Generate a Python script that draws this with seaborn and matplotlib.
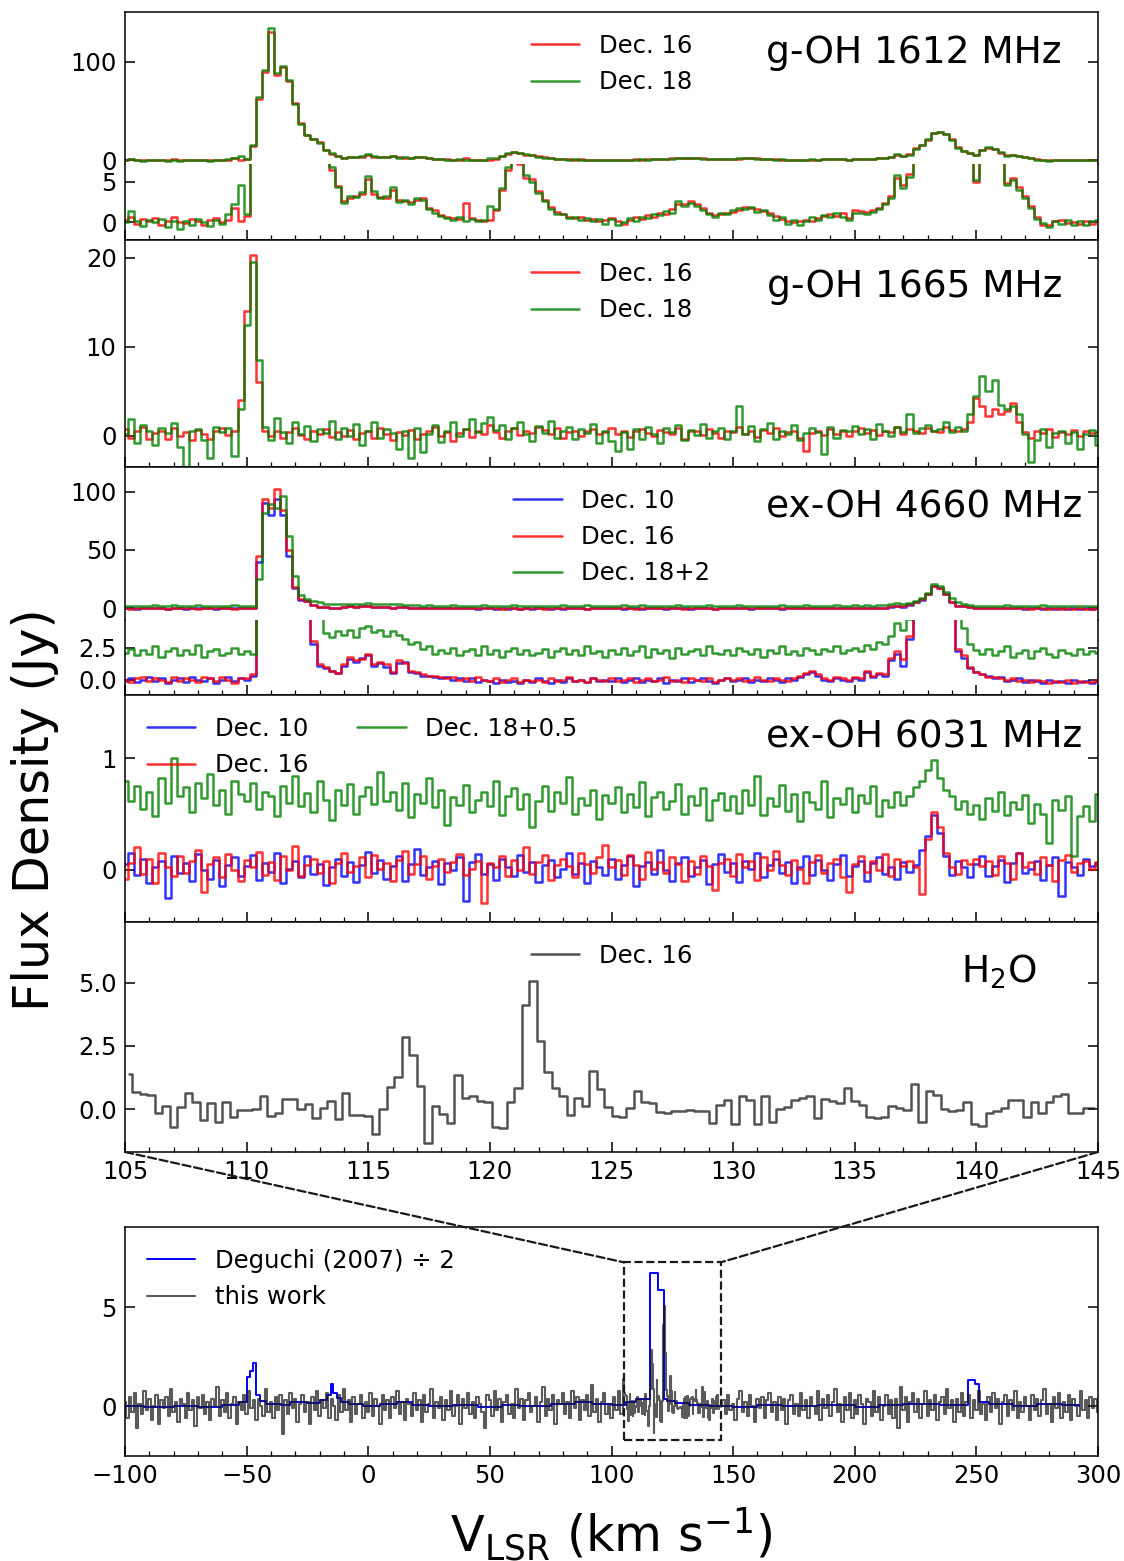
import numpy as np
import matplotlib
matplotlib.use("Agg")
import matplotlib.pyplot as plt
from matplotlib.patches import Rectangle, ConnectionPatch
from matplotlib.ticker import MultipleLocator
import seaborn as sns

# ---- spectra (flux in Jy), OH grid 105..145 km/s, 0.25 km/s ----
oh1612_dec16 = [
    0.3, 0.6, -0.2, 0.4, 0.1, 0.5, -0.3, 0.2, 0.6, 0.0,
    -0.1, 0.4, 0.2, -0.4, 0.3, 0.5, 0.0, 0.3, 1.8, 0.2,
    0.8, 14, 62, 90, 130, 86, 95, 80, 58, 38,
    25, 21, 18, 10, 6.5, 4.5, 2.6, 3.0, 3.3, 3.5,
    5.4, 3.5, 3.1, 3.0, 4.0, 2.7, 2.6, 2.5, 2.8, 3.0,
    1.8, 1.5, 0.9, 0.7, 0.5, 0.4, 2.4, 0.5, 0.3, 0.2,
    0.3, 1.5, 4.0, 6.5, 8.0, 7.2, 5.5, 5.3, 3.8, 2.8,
    1.9, 1.3, 1.0, 0.7, 0.5, 0.6, 0.3, 0.4, 0.2, 0.3,
    0.5, 0.1, -0.2, 0.3, 0.6, 0.4, 0.9, 0.7, 1.2, 1.0,
    1.6, 2.3, 2.2, 2.6, 2.3, 1.8, 1.2, 0.9, 1.0, 1.2,
    1.3, 1.5, 1.9, 1.7, 1.6, 1.4, 1.2, 0.8, 0.4, 0.2,
    0.0, 0.1, 0.3, 0.2, 0.5, 0.8, 1.0, 0.8, 1.2, 0.5,
    1.5, 1.4, 1.3, 1.5, 1.8, 2.4, 3.2, 5.5, 4.6, 6.0,
    12, 15, 20, 28, 29, 27, 21, 13, 9.0, 7.5,
    5.0, 10, 12.5, 11, 7.5, 4.8, 5.5, 4.3, 3.2, 2.0,
    0.6, -0.3, -0.4, 0.1, 0.3, -0.1, 0.0, -0.2, 0.2, -0.2,
    0.2]
oh1612_dec18 = [
    0.0, 1.4, 0.2, -0.5, 0.3, 0.0, 0.4, -0.6, 0.1, -0.9,
    0.2, -0.3, 0.4, 0.0, -0.5, 0.3, -0.2, 1.0, 2.2, 4.6,
    1.0, 15, 64, 92, 134, 88, 96, 81, 57, 37,
    25, 21, 17.5, 10, 6.8, 4.3, 2.4, 3.2, 3.1, 3.7,
    5.7, 3.8, 3.0, 3.2, 4.3, 2.5, 2.8, 2.3, 3.0, 2.8,
    1.6, 1.2, 0.8, 0.5, 0.3, 0.6, 0.2, 0.4, 0.1, 0.3,
    2.0, 1.6, 4.2, 6.8, 8.2, 7.4, 5.8, 5.0, 3.6, 2.6,
    1.6, 1.0, 1.0, 0.5, 0.6, 0.3, 0.5, 0.1, 0.4, -0.2,
    0.4, -0.4, 0.0, 0.5, 0.2, 0.7, 0.5, 1.0, 0.9, 1.4,
    1.2, 2.6, 2.0, 2.4, 2.0, 1.5, 1.0, 0.6, 1.2, 1.0,
    1.5, 1.7, 1.6, 1.9, 1.3, 1.5, 0.9, 0.3, 0.6, -0.2,
    0.3, -0.3, 0.2, 0.6, 0.3, 0.9, 0.7, 1.1, 0.6, 0.3,
    1.2, 1.1, 1.0, 1.3, 1.6, 2.2, 3.0, 5.8, 4.2, 5.6,
    11.5, 15.5, 21, 28, 29, 26, 20, 12.5, 9.5, 7.6,
    5.2, 10.5, 12.8, 11.5, 7.8, 4.6, 5.2, 4.0, 3.0, 1.8,
    0.4, -0.1, -0.6, 0.2, -0.2, 0.3, -0.4, 0.1, -0.3, 0.2,
    0.3]

oh1665_dec16 = [
    0.8, -0.2, 0.5, 1.0, -0.4, 0.3, 0.6, -0.3, 0.9, 0.0,
    0.4, -0.5, 0.7, 0.2, -0.3, 0.5, 0.9, 0.1, 0.5, 4.0,
    14, 20.3, 6.0, 0.6, 0.0, 0.6, -0.2, 0.4, 0.9, 0.1,
    -0.3, 0.5, 0.2, 0.8, -0.1, 0.4, 0.0, 0.7, -0.4, 0.3,
    0.6, -0.2, 0.9, 0.2, -0.5, 0.4, 0.1, 0.7, -0.3, 0.2,
    0.5, 1.0, 0.0, 0.4, -0.6, 0.3, 0.8, -0.1, 0.5, 0.2,
    1.2, 0.4, -0.2, 0.6, 0.9, 0.1, 0.5, 0.3, 1.0, 0.7,
    0.2, 0.9, -0.2, 0.4, 0.6, 0.0, 0.5, 0.8, 0.2, 0.4,
    0.9, 0.2, 0.6, -0.1, 0.5, 0.8, 0.3, 0.0, 0.7, 0.4,
    0.2, 0.9, -0.3, 0.5, 0.6, 0.1, 0.8, 0.3, -0.2, 0.6,
    0.4, 1.0, 0.2, 0.5, -0.1, 0.7, 0.3, 0.9, 0.0, 0.4,
    0.6, -0.2, -1.7, 0.3, 0.5, 0.1, 0.8, 0.2, 0.6, 0.0,
    0.5, 0.9, 0.3, 0.7, 0.1, 0.6, 0.4, 1.0, 0.2, 0.8,
    0.5, 0.3, 0.9, 0.6, 0.4, 1.0, 0.7, 0.5, 0.8, 1.5,
    4.3, 3.4, 2.2, 3.0, 2.4, 2.8, 3.7, 1.5, 0.4, -0.2,
    0.6, 0.3, 0.8, -0.1, 0.4, 0.2, 0.7, 0.0, 0.5, 0.3,
    0.4]
oh1665_dec18 = [
    0.2, 1.9, -0.8, 1.2, 0.5, -1.0, 0.9, 0.3, 1.4, -1.2,
    -3.6, 0.6, 0.8, -0.5, -2.5, 1.0, 0.4, 0.9, -2.3, 3.0,
    12.5, 19.5, 8.5, 1.0, -0.5, 2.0, 0.4, -0.8, 1.5, 0.2,
    1.1, -0.6, 0.8, 0.3, 1.7, -0.4, 0.9, 0.0, 1.3, -1.0,
    0.6, 1.5, -0.2, 0.8, 0.3, -1.5, 0.5, -2.5, 0.9, -1.8,
    0.2, 1.2, -0.7, 0.5, 1.6, 0.0, 0.8, 1.9, 0.4, 1.4,
    2.1, 0.7, 1.2, -0.3, 0.9, 1.5, 0.2, -0.6, 1.1, 0.3,
    1.7, -0.2, 0.6, 1.0, -0.4, 0.8, 0.3, 1.3, -0.8, 0.5,
    -0.6, -1.7, 0.4, -1.5, 0.8, -0.3, 1.0, 0.2, -0.8, 0.9,
    0.4, 1.2, -0.5, 0.7, 0.1, 1.3, -0.2, 0.6, 0.9, -0.4,
    0.5, 3.3, 0.2, 1.1, -0.6, 0.8, 1.4, -0.3, 0.6, 0.2,
    1.2, -0.5, 0.3, 0.9, 0.4, -2.0, 1.0, -0.2, 0.7, 0.5,
    1.1, 0.2, 0.8, -0.4, 1.3, 0.6, 0.0, 1.0, 0.4, 2.4,
    0.3, 0.9, 1.2, 0.5, 0.8, 1.5, 0.4, 1.0, 0.6, 2.5,
    4.5, 6.7, 5.0, 6.3, 3.5, 3.0, 3.3, 2.5, 0.2, -2.9,
    -0.5, 0.8, -1.2, 0.3, 0.6, -0.8, 0.4, -1.5, 0.2, 0.7,
    -1.0]

oh4660_dec10 = [
    -0.1, 0.1, -0.2, 0.0, 0.2, -0.1, 0.1, -0.3, 0.0, 0.1,
    -0.2, 0.2, 0.0, -0.1, 0.1, -0.3, 0.0, 0.2, -0.1, 0.1,
    0.0, 0.3, 40, 90, 80, 94, 80, 45, 17, 7.5,
    6.0, 2.8, 1.1, 0.9, 0.7, 0.5, 1.1, 1.6, 1.4, 1.7,
    1.9, 1.1, 1.3, 1.0, 0.5, 1.3, 1.4, 0.6, 0.5, 0.3,
    0.3, 0.2, 0.1, 0.2, 0.0, 0.1, -0.1, 0.1, -0.2, 0.0,
    -0.1, -0.3, 0.0, -0.2, -0.1, -0.3, 0.0, -0.2, 0.1, -0.1,
    -0.3, 0.0, -0.2, 0.1, -0.1, 0.0, -0.2, 0.1, -0.1, 0.0,
    -0.1, 0.1, -0.2, 0.0, 0.1, -0.2, 0.0, -0.1, 0.1, -0.3,
    0.0, -0.1, 0.1, -0.2, 0.0, 0.1, -0.1, -0.3, 0.0, 0.1,
    -0.1, 0.0, 0.1, -0.2, 0.0, -0.1, 0.1, 0.0, -0.2, 0.1,
    0.0, 0.2, 0.4, 0.6, 0.3, 0.0, -0.1, 0.1, 0.0, -0.1,
    0.1, 0.0, 0.6, 0.2, 0.4, 0.3, 1.5, 2.0, 1.1, 3.2,
    5.5, 7.5, 12, 19, 17, 12, 5.3, 2.2, 1.7, 0.9,
    0.6, 0.4, 0.3, 0.1, 0.2, -0.1, 0.0, 0.1, -0.2, 0.0,
    -0.1, -0.3, 0.0, -0.2, -0.1, -0.3, 0.0, -0.2, -0.1, -0.3,
    -0.1]
oh4660_dec16 = [
    0.0, -0.2, 0.1, 0.2, -0.1, 0.1, 0.0, -0.2, 0.2, -0.1,
    0.1, 0.0, -0.2, 0.2, 0.1, -0.1, 0.2, 0.0, -0.3, 0.1,
    0.1, 0.4, 45, 94, 86, 102, 84, 50, 18, 8.0,
    6.4, 3.0, 1.2, 1.0, 0.7, 0.55, 1.2, 1.75, 1.5, 1.6,
    2.0, 1.2, 1.4, 1.2, 0.6, 1.5, 1.3, 0.7, 0.6, 0.4,
    0.3, 0.3, 0.2, 0.1, 0.2, 0.0, 0.1, -0.1, 0.2, 0.0,
    -0.1, 0.1, -0.2, 0.0, 0.1, -0.2, 0.0, -0.1, 0.0, -0.2,
    0.1, -0.1, 0.0, 0.2, -0.1, 0.0, -0.2, 0.1, 0.0, -0.1,
    0.1, -0.1, 0.0, 0.1, -0.2, 0.0, 0.1, -0.1, 0.0, 0.2,
    -0.1, 0.0, -0.2, 0.1, 0.0, -0.1, 0.1, -0.2, 0.0, 0.1,
    0.0, 0.1, -0.1, 0.0, 0.2, 0.0, -0.1, 0.1, 0.0, -0.1,
    0.1, 0.3, 0.5, 0.7, 0.4, 0.1, 0.0, 0.2, 0.1, 0.0,
    0.2, 0.1, 0.7, 0.3, 0.5, 0.4, 1.7, 2.2, 1.6, 3.4,
    5.8, 8.0, 12.5, 19.5, 17.5, 12.5, 5.6, 2.4, 1.9, 1.0,
    0.6, 0.4, 0.2, 0.2, 0.1, 0.0, 0.1, -0.1, 0.0, -0.2,
    0.0, -0.1, -0.3, -0.1, -0.2, 0.0, -0.3, -0.1, -0.2, -0.2,
    0.0]
oh4660_dec18p2 = [
    2.1, 2.4, 1.9, 2.3, 2.0, 2.6, 1.8, 2.2, 2.5, 1.9,
    2.3, 2.0, 2.7, 1.8, 2.2, 2.4, 1.9, 2.1, 2.5, 2.0,
    2.2, 2.0, 25, 82, 89, 86, 96, 62, 28, 11,
    8.0, 6.5, 5.2, 3.6, 3.3, 3.8, 3.5, 3.9, 3.3, 4.0,
    4.2, 3.7, 3.9, 3.4, 3.8, 3.5, 3.2, 2.8, 2.9, 2.4,
    2.6, 2.0, 2.3, 2.1, 2.5, 1.9, 2.2, 2.4, 1.9, 2.6,
    2.0, 2.3, 1.8, 2.2, 2.5, 2.0, 2.3, 1.9, 2.1, 2.4,
    1.8, 2.2, 2.5, 2.0, 2.3, 1.9, 2.6, 2.1, 2.2, 1.8,
    2.3, 2.0, 2.5, 1.9, 2.2, 2.6, 1.8, 2.4, 2.1, 2.3,
    1.7, 2.5, 2.0, 2.2, 2.4, 1.9, 2.6, 2.1, 2.0, 2.3,
    1.9, 2.5, 2.2, 2.0, 2.4, 1.8, 2.3, 2.1, 2.6, 2.0,
    2.2, 1.9, 2.5, 2.3, 2.0, 2.4, 2.2, 2.6, 2.1, 2.3,
    2.5, 2.2, 2.7, 2.4, 2.9, 2.8, 3.4, 4.4, 3.9, 4.7,
    6.5, 9.0, 13, 21, 19, 14, 9.0, 5.8, 4.0, 2.8,
    2.3, 2.0, 2.4, 1.9, 2.2, 2.6, 1.8, 2.1, 2.3, 1.7,
    2.2, 2.5, 2.0, 1.8, 2.3, 2.1, 1.9, 2.4, 2.0, 2.2,
    2.1]

oh6031_dec10 = [
    0.05, 0.15, -0.05, 0.10, -0.12, 0.02, 0.08, -0.25, 0.12, -0.03,
    0.06, -0.10, 0.14, 0.00, -0.08, 0.09, -0.15, 0.04, 0.11, -0.06,
    0.03, 0.13, -0.09, 0.06, -0.02, 0.15, -0.12, 0.01, 0.08, -0.07,
    0.12, -0.04, 0.05, -0.14, 0.02, 0.10, -0.06, 0.07, -0.11, 0.04,
    0.16, -0.03, 0.09, -0.08, 0.03, 0.12, -0.10, 0.05, 0.19, -0.05,
    0.02, 0.08, -0.13, 0.06, 0.00, 0.11, -0.28, 0.07, 0.14, -0.04,
    0.05, -0.09, 0.10, 0.02, -0.06, 0.13, -0.02, 0.07, -0.11, 0.04,
    0.09, -0.07, 0.01, 0.15, -0.04, 0.06, -0.12, 0.08, 0.02, -0.05,
    0.10, -0.08, 0.04, 0.12, -0.15, 0.03, 0.07, -0.04, 0.18, 0.00,
    -0.10, 0.06, 0.11, -0.06, 0.02, 0.09, -0.13, 0.05, 0.14, -0.02,
    0.06, -0.11, 0.08, 0.01, 0.15, -0.07, 0.04, 0.10, -0.03, 0.07,
    -0.12, 0.02, 0.12, -0.05, 0.09, 0.00, -0.09, 0.05, 0.13, -0.06,
    0.03, 0.08, -0.10, 0.06, 0.11, -0.04, 0.02, -0.08, 0.07, -0.02,
    0.04, 0.18, 0.30, 0.49, 0.33, 0.12, -0.05, 0.08, 0.02, -0.07,
    0.05, 0.12, -0.06, 0.03, 0.09, -0.11, 0.06, 0.15, -0.03, 0.01,
    0.08, -0.09, 0.04, 0.11, -0.24, 0.07, 0.02, -0.05, 0.10, 0.03,
    0.06]
oh6031_dec16 = [
    -0.08, 0.06, 0.20, -0.04, 0.10, -0.12, 0.15, 0.02, -0.06, 0.12,
    -0.03, 0.08, 0.18, -0.20, 0.05, 0.11, -0.07, 0.14, 0.00, -0.10,
    0.09, 0.02, 0.16, -0.05, 0.07, -0.09, 0.12, 0.00, 0.21, -0.06,
    0.04, 0.10, -0.03, 0.08, -0.12, 0.06, 0.15, -0.02, 0.03, 0.11,
    -0.07, 0.13, 0.01, 0.06, -0.10, 0.09, 0.17, -0.04, 0.05, 0.12,
    -0.08, 0.03, 0.10, -0.02, 0.07, 0.14, -0.05, 0.01, 0.08, -0.30,
    0.06, 0.02, 0.12, -0.06, 0.09, 0.00, 0.20, -0.04, 0.07, 0.13,
    -0.09, 0.04, 0.10, 0.03, -0.07, 0.15, 0.05, -0.03, 0.11, 0.22,
    0.02, 0.09, -0.05, 0.13, 0.04, -0.08, 0.16, 0.01, 0.07, -0.03,
    0.11, 0.05, -0.10, 0.08, -0.04, 0.12, 0.03, -0.18, 0.06, 0.10,
    -0.06, 0.14, 0.02, 0.08, -0.09, 0.11, 0.00, 0.17, 0.04, -0.05,
    0.09, 0.01, -0.12, 0.07, 0.13, -0.03, 0.06, 0.10, -0.07, -0.20,
    0.05, 0.12, -0.02, 0.08, 0.00, 0.14, -0.06, 0.10, 0.03, 0.08,
    0.02, -0.22, 0.28, 0.52, 0.38, 0.15, 0.02, -0.04, 0.09, 0.05,
    0.10, 0.03, 0.08, -0.05, 0.12, 0.06, -0.08, 0.15, 0.02, 0.07,
    -0.04, 0.11, 0.04, -0.10, 0.09, 0.13, -0.02, 0.06, 0.08, 0.01,
    0.07]
oh6031_dec18p05 = [
    0.80, 0.62, 0.75, 0.55, 0.70, 0.48, 0.82, 0.60, 1.00, 0.66,
    0.74, 0.52, 0.78, 0.64, 0.86, 0.58, 0.72, 0.50, 0.80, 0.68,
    0.62, 0.78, 0.55, 0.70, 0.66, 0.48, 0.75, 0.60, 0.84, 0.57,
    0.69, 0.52, 0.80, 0.63, 0.45, 0.72, 0.58, 0.77, 0.50, 0.66,
    0.74, 0.59, 0.88, 0.62, 0.70, 0.54, 0.78, 0.47, 0.68, 0.60,
    0.82, 0.56, 0.72, 0.40, 0.65, 0.58, 0.76, 0.52, 0.63, 0.70,
    0.57, 0.80, 0.49, 0.66, 0.73, 0.55, 0.68, 0.38, 0.62, 0.75,
    0.53, 0.70, 0.60, 0.83, 0.50, 0.64, 0.58, 0.72, 0.46, 0.67,
    0.60, 0.74, 0.52, 0.68, 0.56, 0.79, 0.48, 0.65, 0.70, 0.55,
    0.62, 0.77, 0.50, 0.66, 0.58, 0.73, 0.45, 0.63, 0.69, 0.54,
    0.66, 0.51, 0.72, 0.58, 0.84, 0.49, 0.64, 0.57, 0.76, 0.53,
    0.68, 0.44, 0.70, 0.61, 0.55, 0.80, 0.47, 0.64, 0.59, 0.73,
    0.52, 0.67, 0.60, 0.75, 0.48, 0.63, 0.56, 0.70, 0.58, 0.66,
    0.74, 0.80, 0.90, 0.99, 0.82, 0.72, 0.66, 0.55, 0.62, 0.50,
    0.58, 0.46, 0.64, 0.53, 0.70, 0.49, 0.61, 0.55, 0.67, 0.42,
    0.59, 0.50, 0.24, 0.63, 0.54, 0.66, 0.12, 0.48, 0.57, 0.44,
    0.68]

# H2O, Dec. 16, ~0.31 km/s channels over 105..145
h2o_dec16 = [
    1.39, 0.69, 0.59, 0.55, -0.15, 0.13, -0.73, 0.07, 0.62, 0.29,
    -0.44, 0.22, -0.50, 0.26, -0.31, -0.04, -0.04, 0.00, 0.50, -0.28,
    -0.15, 0.38, 0.38, 0.00, 0.19, -0.37, 0.03, 0.33, -0.41, 0.64,
    -0.24, -0.24, -0.26, -0.97, 0.00, 0.86, 1.26, 2.84, 2.14, 0.90,
    -1.34, 0.12, -0.21, -0.54, 1.35, 0.42, 0.53, 0.33, 0.29, -0.71,
    -0.77, 0.29, 0.82, 4.13, 5.08, 2.71, 1.48, 0.82, 0.52, -0.24,
    0.45, 0.13, 1.52, 0.78, 0.09,
    -0.26, -0.33, 0.04, 0.71, 0.29, 0.25, -0.10, -0.15, -0.06, -0.06,
    -0.04, -0.08, -0.08, -0.54, 0.16, 0.36, -0.60, 0.50, 0.36, -0.60,
    0.53, -0.50, 0.00, 0.07, 0.36, 0.42, 0.50, -0.37, 0.38, 0.33,
    0.25, 0.82, 0.32, 0.16, -0.33, -0.34, -0.33, 0.13, 0.03, -0.04,
    1.00, -0.53, 0.71, 0.56, 0.00, -0.06, -0.04, 0.26, -0.60, -0.66,
    -0.15, -0.08, 0.05, 0.36, 0.36, -0.33, 0.29, -0.15, 0.29, 0.50,
    0.60, -0.15, -0.15, 0.03, 0.03]

# wide-band H2O (this work) outside the 105-145 window, 1 km/s
wide_left = [
    0.2, -0.6, 0.5, -0.3, 0.7, -1.1, 0.1, -0.4, 0.8, -0.2,
    0.4, -0.7, 0.0, 0.6, -0.9, 0.3, -0.1, 0.5, -0.5, 0.9,
    -0.3, 0.2, -0.8, 0.4, 0.1, -0.6, 0.7, -0.2, 0.3, -1.0,
    0.5, -0.1, 0.6, -0.4, 0.2, -0.7, 0.4, 0.0, 1.0, -0.5,
    0.3, -0.3, 0.7, -0.6, 0.1, 0.5, -0.9, 0.2, -0.2, 0.6,
    -0.4, 0.8, -0.1, 0.3, -0.7, 0.4, 0.0, -0.5, 0.9, -0.3,
    0.2, -0.6, 0.5, -0.2, 0.6, -1.4, 0.3, -0.4, 0.7, -0.1,
    0.4, -0.8, 0.1, 0.6, -0.3, 0.2, -0.9, 0.5, -0.2, 0.8,
    -0.5, 0.3, -0.1, 0.7, -0.6, 0.4, 0.0, -0.7, 0.6, -0.3,
    0.9, -0.2, 0.3, -0.8, 0.5, -0.4, 0.1, 0.6, -0.6, 0.2,
    -0.3, 0.7, -0.5, 0.4, 0.0, -0.9, 0.6, -0.2, 0.3, -0.6,
    0.5, -0.1, 0.8, -0.4, 0.2, -0.7, 0.4, 0.1, -0.5, 0.7,
    -0.2, 0.3, -0.8, 0.6, -0.3, 0.1, 0.9, -0.6, 0.2, -0.1,
    0.5, -0.7, 0.3, -0.2, 0.8, -0.5, 0.0, 0.6, -0.9, 0.4,
    -0.1, 0.7, -0.4, 0.2, -0.6, 0.5, 0.1, -0.3, -1.1, 0.6,
    0.3, -0.5, 0.8, -0.2, 0.4, -0.8, 0.2, 0.6, -0.4, 0.1,
    -0.6, 0.9, -0.1, 0.4, -0.7, 0.3, 0.7, -0.3, 0.0, 0.5,
    -0.8, 0.2, 1.0, -0.5, 0.4, -0.2, 0.6, -0.9, 0.3, 0.1,
    0.7, -0.4, 0.2, -0.6, 0.8, -0.1, 0.5, -0.7, 0.3, -0.2,
    0.6, -0.5, 1.1, -0.3, 0.4, -0.8, 0.2, 0.7, -0.4, 0.1,
    -0.6, 0.5, -0.2, 0.8, -0.4]
wide_right = [
    0.3, -0.4, 0.6, -0.2, 0.1, -0.7, 0.4, 0.8, -0.3, 0.2,
    -0.5, 0.6, 0.0, -0.8, 0.4, -0.1, 0.5, -0.6, 0.3, 0.7,
    -0.3, 0.2, -0.7, 0.5, -0.2, 0.4, -0.9, 0.3, 0.6, -0.4,
    0.1, -0.5, 0.7, -0.2, 0.3, -0.6, 0.5, 0.0, -0.4, 0.8,
    -0.7, 0.4, -0.1, 0.6, -0.5, 0.2, 0.9, -0.3, 0.1, -0.8,
    0.5, -0.2, 0.7, -0.6, 0.3, -0.4, 0.6, 0.1, -0.9, 0.4,
    0.2, -0.5, 0.8, -0.3, 0.5, -0.7, 0.0, 0.6, -0.4, 0.3,
    -0.6, 0.4, -1.1, 1.0, -0.2, 0.5, -0.8, 0.2, 0.7, -0.3,
    0.4, -0.6, 0.1, 0.8, -0.5, 0.3, -0.2, 0.6, -0.7, 0.2,
    0.5, -0.4, 0.9, -0.1, 0.3, -0.8, 0.4, -0.3, 0.7, -0.5,
    0.2, 0.6, -0.6, 0.3, -0.2, 0.8, -0.4, 0.1, -0.7, 0.5,
    -0.3, 0.7, -0.1, 0.4, -0.9, 0.2, 0.6, -0.5, 0.3, -0.2,
    0.8, -0.6, 0.2, -0.3, 0.5, 0.0, -0.7, 0.6, -0.2, 0.4,
    -0.5, 0.3, 0.9, -0.4, 0.1, -0.8, 0.5, -0.1, 0.7, -0.6,
    0.2, -0.3, 0.6, -0.7, 0.4, 0.0, -0.5, 0.8, -0.2, 0.3,
    -0.6, 0.5, -0.1, 0.4, -0.3]

# Deguchi (2007) / 2, step breakpoints
deg_vel = [-100, -92, -80, -70, -60, -53, -50, -48.5, -47.5, -46,
           -44.5, -42, -36, -32, -25, -20, -17, -15.5, -14.5, -13,
           -11, -8, -2, 5, 12, 18, 25, 35, 45, 55,
           62, 75, 85, 92, 100, 106, 110, 116, 119, 121.5,
           123, 126, 132, 140, 150, 160, 170, 185, 200, 210,
           220, 235, 246.5, 249.5, 251, 255, 265, 275, 285, 292]
deg_flux = [0.0, -0.05, 0.0, -0.03, 0.05, 0.2, 1.5, 1.8, 2.2, 0.6,
            0.25, 0.1, 0.05, 0.2, 0.15, 0.3, 0.6, 1.15, 0.7, 0.45,
            0.2, 0.1, 0.0, 0.1, 0.2, 0.05, 0.0, 0.05, -0.02, 0.05,
            0.0, 0.1, 0.2, 0.1, 0.05, 0.2, 0.35, 6.75, 5.85, 0.4,
            0.25, 0.15, 0.05, 0.0, -0.05, 0.05, 0.0, 0.05, -0.05, 0.05,
            0.1, 0.05, 1.35, 1.15, 0.2, 0.1, 0.0, 0.1, 0.05, 0.0]

vel_oh = np.linspace(105.0, 145.0, len(oh1612_dec16))
vel_h2o = np.linspace(105.15, 144.85, len(h2o_dec16))
vel_left = np.arange(-100, -100 + len(wide_left))
vel_right = np.arange(146, 146 + len(wide_right))

sns.set_theme(style="ticks", rc={
    "axes.edgecolor": "black", "axes.linewidth": 1.1,
    "text.color": "black", "axes.labelcolor": "black",
    "xtick.direction": "in", "ytick.direction": "in",
    "xtick.color": "black", "ytick.color": "black",
    "xtick.major.size": 7, "xtick.minor.size": 3.5, "ytick.major.size": 7,
    "xtick.major.width": 1.1, "xtick.minor.width": 0.9, "ytick.major.width": 1.1,
})
plt.rcParams["font.family"] = ["DejaVu Sans"]

RED, GREEN, BLUE = "red", "green", "blue"
FS_TICK, FS_LEG, FS_LINE, FS_AX = 17.5, 17.5, 27, 35.5
LW = 1.8

fig = plt.figure(figsize=(11.24, 15.61), dpi=100)
H = 1561.0
L, W = 125 / 1124, 973 / 1124


def add_ax(top, bottom):
    return fig.add_axes([L, 1 - bottom / H, W, (bottom - top) / H])


def spec(ax, x, y, color, label=None, alpha=0.8, lw=LW, step="steps-mid"):
    sns.lineplot(x=x, y=y, ax=ax, color=color, alpha=alpha, lw=lw,
                 drawstyle=step, label=label, legend=False,
                 estimator=None, sort=False)


ax1a = add_ax(12, 164)
ax1b = add_ax(164, 240)
ax2 = add_ax(240, 467)
ax3a = add_ax(467, 620)
ax3b = add_ax(620, 695)
ax4 = add_ax(695, 922)
ax5 = add_ax(922, 1152)
ax6 = add_ax(1227, 1456)

# g-OH 1612
for ax in (ax1a, ax1b):
    spec(ax, vel_oh, oh1612_dec16, RED, "Dec. 16")
    spec(ax, vel_oh, oh1612_dec18, GREEN, "Dec. 18")
ax1a.set_ylim(-4, 150.5)
ax1b.set_ylim(-2.2, 7.2)
ax1a.set_yticks([0, 100])
ax1b.set_yticks([0, 5])

# g-OH 1665
spec(ax2, vel_oh, oh1665_dec16, RED, "Dec. 16")
spec(ax2, vel_oh, oh1665_dec18, GREEN, "Dec. 18")
ax2.set_ylim(-3.5, 22)
ax2.set_yticks([0, 10, 20])

# ex-OH 4660
for ax in (ax3a, ax3b):
    spec(ax, vel_oh, oh4660_dec10, BLUE, "Dec. 10")
    spec(ax, vel_oh, oh4660_dec16, RED, "Dec. 16")
    spec(ax, vel_oh, oh4660_dec18p2, GREEN, "Dec. 18+2")
ax3a.set_ylim(-10, 121)
ax3b.set_ylim(-1.2, 4.65)
ax3a.set_yticks([0, 50, 100])
ax3b.set_yticks([0.0, 2.5])
ax3b.set_yticklabels(["0.0", "2.5"])

# ex-OH 6031
spec(ax4, vel_oh, oh6031_dec10, BLUE, "Dec. 10")
spec(ax4, vel_oh, oh6031_dec16, RED, "Dec. 16")
spec(ax4, vel_oh, oh6031_dec18p05, GREEN, "Dec. 18+0.5")
ax4.set_ylim(-0.47, 1.57)
ax4.set_yticks([0, 1])

# H2O
spec(ax5, vel_h2o, h2o_dec16, "k", "Dec. 16", alpha=0.75)
ax5.set_ylim(-1.7, 7.4)
ax5.set_yticks([0.0, 2.5, 5.0])
ax5.set_yticklabels(["0.0", "2.5", "5.0"])

for ax in (ax1a, ax1b, ax2, ax3a, ax3b, ax4, ax5):
    ax.set_xlim(105, 145)
    ax.xaxis.set_major_locator(MultipleLocator(5))
    ax.xaxis.set_minor_locator(MultipleLocator(1))
    ax.tick_params(axis="x", which="both", bottom=True, top=False, labelbottom=False)
    ax.tick_params(axis="y", which="both", left=True, right=True, labelsize=FS_TICK, pad=6)
    ax.tick_params(axis="y", which="minor", left=False, right=False)
for ax in (ax1a, ax3a):
    ax.spines["bottom"].set_visible(False)
    ax.tick_params(axis="x", which="both", bottom=False)
for ax in (ax1b, ax3b):
    ax.spines["top"].set_visible(False)
ax5.tick_params(axis="x", labelbottom=True, labelsize=FS_TICK, pad=6)

ax1a.legend(loc="upper center", frameon=False, fontsize=FS_LEG)
ax2.legend(loc="upper center", frameon=False, fontsize=FS_LEG)
ax3a.legend(loc="upper center", frameon=False, fontsize=FS_LEG)
ax4.legend(loc="upper left", ncol=2, frameon=False, fontsize=FS_LEG)
ax5.legend(loc="upper center", frameon=False, fontsize=FS_LEG)

# wide-band panel
spec(ax6, deg_vel, deg_flux, "blue", "Deguchi (2007) \u00f7 2", alpha=1.0, lw=1.4, step="steps-post")
grey_vel = np.concatenate([vel_left, vel_h2o, vel_right])
grey_flux = np.concatenate([wide_left, h2o_dec16, wide_right])
spec(ax6, grey_vel, grey_flux, "k", "this work", alpha=0.72, lw=1.5)
ax6.set_xlim(-100, 300)
ax6.set_ylim(-2.5, 9.05)
ax6.set_yticks([0, 5])
ax6.xaxis.set_major_locator(MultipleLocator(50))
ax6.xaxis.set_minor_locator(MultipleLocator(10))
ax6.tick_params(axis="both", which="both", labelsize=FS_TICK, pad=6)
ax6.tick_params(axis="y", left=True, right=True)
ax6.tick_params(axis="x", which="both", bottom=True, top=False)
ax6.legend(loc="upper left", frameon=False, fontsize=FS_LEG)

box_lo, box_hi = -1.7, 7.27
ax6.add_patch(Rectangle((105, box_lo), 40, box_hi - box_lo, fill=False,
                        ls="--", lw=1.6, color="k", zorder=5))
for xv in (105, 145):
    con = ConnectionPatch(xyA=(xv, ax5.get_ylim()[0]), coordsA=ax5.transData,
                          xyB=(xv, box_hi), coordsB=ax6.transData,
                          ls="--", lw=1.6, color="k")
    fig.add_artist(con)

# line labels
fig.text(1062 / 1124, 1 - 63 / H, "g-OH 1612 MHz", fontsize=FS_LINE, ha="right", va="baseline")
fig.text(1062 / 1124, 1 - 297 / H, "g-OH 1665 MHz", fontsize=FS_LINE, ha="right", va="baseline")
fig.text(1082 / 1124, 1 - 518 / H, "ex-OH 4660 MHz", fontsize=FS_LINE, ha="right", va="baseline")
fig.text(1082 / 1124, 1 - 747 / H, "ex-OH 6031 MHz", fontsize=FS_LINE, ha="right", va="baseline")
fig.text(1037 / 1124, 1 - 983 / H, r"H$_2$O", fontsize=FS_LINE, ha="right", va="baseline")

fig.text(35 / 1124, 1 - 810 / H, "Flux Density (Jy)", rotation=90, fontsize=FS_AX,
         ha="center", va="center")
fig.text(611 / 1124, 1 - 1535 / H, r"V$_{\rm LSR}$ (km s$^{-1}$)", fontsize=FS_AX,
         ha="center", va="center")

fig.savefig("out.png", dpi=100)
